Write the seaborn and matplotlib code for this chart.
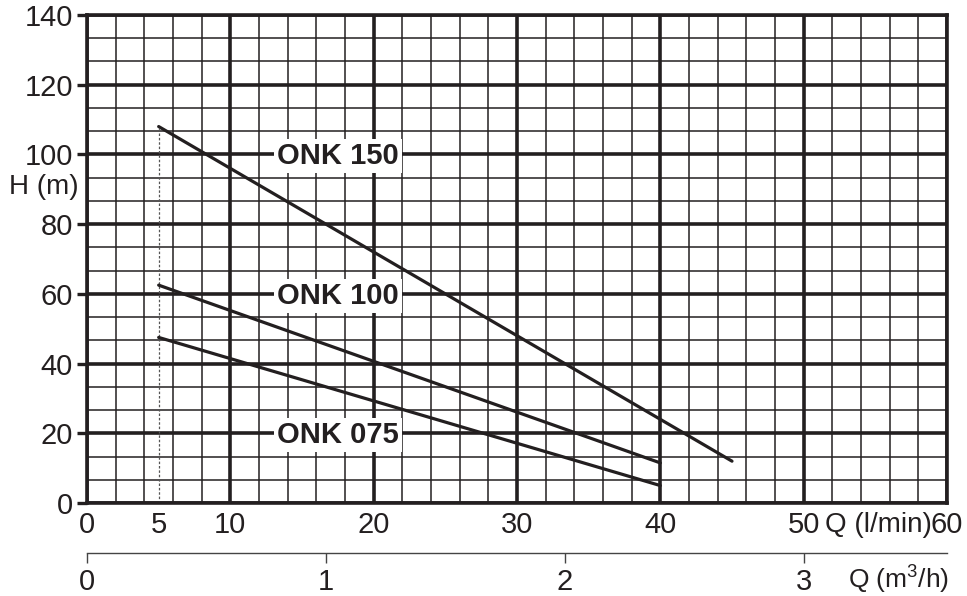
import numpy as np
import pandas as pd
import matplotlib
matplotlib.use("Agg")
import matplotlib.pyplot as plt
import seaborn as sns

# Kennlinien (Q in l/min, H in m)
models = ["ONK 150", "ONK 100", "ONK 075"]
q_start = [5, 5, 5]
q_end = [45, 40, 40]
h_start = [108, 62.5, 47.5]
h_end = [12, 11.5, 5]
label_q = [17.5, 17.5, 17.5]
label_h = [99.5, 59.5, 19.5]

xtick_vals = [0, 5, 10, 20, 30, 40, 50, 60]
ytick_vals = [0, 20, 40, 60, 80, 100, 120, 140]
m3h_ticks = [0, 1, 2, 3]

sns.set_theme(style="white")
plt.rcParams["font.family"] = ["Liberation Sans", "DejaVu Sans"]
plt.rcParams["mathtext.fontset"] = "custom"
plt.rcParams["mathtext.rm"] = "Liberation Sans"

ink = "#231f20"

rows = []
for m, q0, q1, h0, h1 in zip(models, q_start, q_end, h_start, h_end):
    rows.append({"model": m, "Q": q0, "H": h0})
    rows.append({"model": m, "Q": q1, "H": h1})
df = pd.DataFrame(rows)

fig = plt.figure(figsize=(9.67, 5.96), dpi=100)
ax = fig.add_axes([87 / 967, 1 - 503 / 596, 860 / 967, 488 / 596])

# Raster
for q in np.arange(0, 61, 2):
    ax.axvline(q, color=ink, lw=2.6 if q % 10 == 0 else 1.1, zorder=1)
for i, h in enumerate(np.linspace(0, 140, 22)):
    ax.axhline(h, color=ink, lw=2.6 if i % 3 == 0 else 1.1, zorder=1)

# gestrichelte Linie bei 5 l/min
ax.plot([q_start[0], q_start[0]], [0, max(h_start)], color="#555555", lw=0.9,
        ls=(0, (2, 1.5)), zorder=2)

sns.lineplot(data=df, x="Q", y="H", hue="model", palette=[ink] * 3,
             legend=False, lw=2.3, estimator=None, sort=False, ax=ax, zorder=3)

for name, lq, lh in zip(models, label_q, label_h):
    ax.text(lq, lh, name, ha="center", va="center", fontsize=21, fontweight="bold",
            color=ink, zorder=4,
            bbox=dict(facecolor="white", edgecolor="none", pad=2))

ax.set_xlim(0, 60)
ax.set_ylim(0, 140)
ax.set_xlabel("")
ax.set_ylabel("")
ax.set_xticks(xtick_vals)
ax.set_yticks(ytick_vals)
ax.tick_params(axis="x", length=0, pad=6, labelsize=21, labelcolor=ink)
ax.tick_params(axis="y", length=7, width=2.4, color=ink, pad=3, labelsize=21,
               labelcolor=ink, left=True)
for s in ax.spines.values():
    s.set_linewidth(2.6)
    s.set_color(ink)
    s.set_zorder(5)

ax.text(-0.05, 0.648, "H (m)", transform=ax.transAxes, ha="center", va="center",
        fontsize=20, color=ink)
ax.text(0.92, -0.045, "Q (l/min)", transform=ax.transAxes, ha="center", va="center",
        fontsize=20, color=ink)

# zweite Achse m3/h
sec = ax.secondary_xaxis(-0.102, functions=(lambda q: q * 0.06, lambda m: m / 0.06))
sec.set_xticks(m3h_ticks)
sec.spines["bottom"].set_linewidth(1.0)
sec.spines["bottom"].set_color("#444444")
sec.tick_params(length=7, width=1.0, color="#444444", pad=4, labelsize=21,
                labelcolor=ink, bottom=True)
ax.text(0.944, -0.155, "Q (m$^3$/h)", transform=ax.transAxes, ha="center", va="center",
        fontsize=19, color=ink)

fig.savefig("out.png", dpi=100)
